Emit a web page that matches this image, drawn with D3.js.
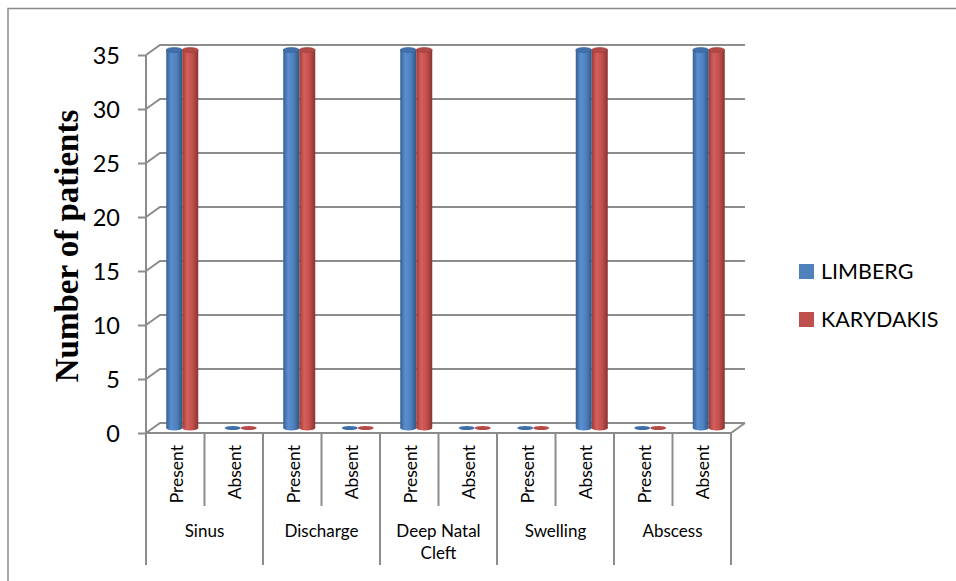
<!DOCTYPE html>
<html>
<head>
<meta charset="utf-8">
<script src="https://cdn.jsdelivr.net/npm/d3@7"></script>
<style>
  html, body { margin: 0; padding: 0; background: #fff; }
  svg { display: block; }
</style>
</head>
<body>
<svg id="chart" width="956" height="581"></svg>
<script>
// Clinical findings per group, split into Present / Absent
const groups = ["Sinus", "Discharge", "Deep Natal Cleft", "Swelling", "Abscess"];
const statuses = ["Present", "Absent"];
const seriesNames = ["LIMBERG", "KARYDAKIS"];
const limberg   = [35, 0, 35, 0, 35, 0, 0, 35, 0, 35];
const karydakis = [35, 0, 35, 0, 35, 0, 0, 35, 0, 35];
const yTicks = [0, 5, 10, 15, 20, 25, 30, 35];
const colors = ["#4F81BD", "#C0504D"];

const svg = d3.select("#chart");
const font = "Lato, 'Open Sans', sans-serif";

// Outer frame (top + left edges)
svg.append("path")
  .attr("d", "M8,581 L8,8.5 L956,8.5")
  .attr("fill", "none").attr("stroke", "#8a8a8a").attr("stroke-width", 1.5);

// Categories: one slot per group/status pair
const cats = [];
groups.forEach(g => statuses.forEach(s => cats.push(g + "|" + s)));

const x0 = 146, x1 = 731;      // front plot edge
const yBase = 433, yTop = 55;  // front y for 0 and 35
const DX = 14, DY = -10;       // depth offset to back wall

const x = d3.scaleBand().domain(cats).range([x0, x1]).paddingInner(0).paddingOuter(0);
const y = d3.scaleLinear().domain([0, 35]).range([yBase, yTop]);

const gridColor = "#8c8c8c";
const grid = svg.append("g");

// Back wall gridlines and side wall diagonals
yTicks.forEach(t => {
  const yf = y(t);
  grid.append("path")
    .attr("d", `M${x0},${yf} L${x0 + DX},${yf + DY} L${x1 + DX},${yf + DY}`)
    .attr("fill", "none").attr("stroke", gridColor).attr("stroke-width", 2);
});

// Floor: front edge + right side
grid.append("path")
  .attr("d", `M${x0},${yBase} L${x1},${yBase} L${x1 + DX},${yBase + DY}`)
  .attr("fill", "none").attr("stroke", gridColor).attr("stroke-width", 2);

// Left axis with tick marks and labels
const yAxis = d3.axisLeft(y).tickValues(yTicks).tickSize(8).tickPadding(18).tickFormat(d3.format("d"));
const ag = svg.append("g").attr("transform", `translate(${x0},0)`).call(yAxis);
ag.select(".domain").remove();
ag.append("line").attr("x1", 0).attr("x2", 0).attr("y1", yTop).attr("y2", 565)
  .attr("stroke", gridColor).attr("stroke-width", 2);
ag.selectAll(".tick line").attr("stroke", gridColor).attr("stroke-width", 2);
ag.selectAll(".tick text")
  .attr("font-family", font).attr("font-size", 23.5).attr("fill", "#000").attr("dy", "0.36em");

// Axis title
svg.append("text")
  .attr("transform", `translate(78,246) rotate(-90)`)
  .attr("text-anchor", "middle")
  .attr("font-family", "'Liberation Serif', 'Times New Roman', serif")
  .attr("font-weight", "bold").attr("font-size", 33)
  .text("Number of patients");

// Category separators under the floor
cats.forEach((c, i) => {
  const isGroupEdge = i % 2 === 0;
  if (i === 0) return;
  grid.append("line")
    .attr("x1", x(c)).attr("x2", x(c))
    .attr("y1", yBase).attr("y2", isGroupEdge ? 565 : 506)
    .attr("stroke", gridColor).attr("stroke-width", 2);
});
grid.append("line").attr("x1", x1).attr("x2", x1).attr("y1", yBase).attr("y2", 565)
  .attr("stroke", gridColor).attr("stroke-width", 2);

// Status labels (rotated)
cats.forEach(c => {
  const cx = x(c) + x.bandwidth() / 2;
  svg.append("text")
    .attr("transform", `translate(${cx + 1},445) rotate(-90)`)
    .attr("text-anchor", "end").attr("dy", "0.36em")
    .attr("font-family", font).attr("font-size", 17.5)
    .text(c.split("|")[1]);
});

// Group labels
groups.forEach(g => {
  const gx = x(g + "|Present") + x.bandwidth();
  const lines = g === "Deep Natal Cleft" ? ["Deep Natal", "Cleft"] : [g];
  lines.forEach((ln, k) => {
    svg.append("text")
      .attr("x", gx).attr("y", 537 + k * 22)
      .attr("text-anchor", "middle")
      .attr("font-family", font).attr("font-size", 17)
      .text(ln);
  });
});

// Cylinder gradients
const defs = svg.append("defs");
const shades = [
  ["#345f93", "#5a8ed0", "#4f81bd", "#2f5685"],
  ["#983b38", "#d65f5b", "#c0504d", "#8a3330"]
];
shades.forEach((s, i) => {
  const lg = defs.append("linearGradient").attr("id", "cyl" + i)
    .attr("x1", "0%").attr("x2", "100%").attr("y1", "0%").attr("y2", "0%");
  lg.append("stop").attr("offset", "0%").attr("stop-color", s[0]);
  lg.append("stop").attr("offset", "30%").attr("stop-color", s[1]);
  lg.append("stop").attr("offset", "65%").attr("stop-color", s[2]);
  lg.append("stop").attr("offset", "100%").attr("stop-color", s[3]);
});

// Bars drawn as cylinders at mid-depth
const MDX = DX / 2, MDY = DY / 2;
const cw = 16, ry = 2.5;
const bars = svg.append("g");
[limberg, karydakis].forEach((vals, si) => {
  vals.forEach((v, i) => {
    const c = cats[i];
    const cx = x(c) + x.bandwidth() / 2 + MDX + (si === 0 ? -cw / 2 : cw / 2);
    const yb = y(0) + MDY;
    const yt = y(v) + MDY;
    const g = bars.append("g");
    if (v > 0) {
      g.append("ellipse").attr("cx", cx).attr("cy", yb).attr("rx", cw / 2).attr("ry", ry)
        .attr("fill", `url(#cyl${si})`);
      g.append("rect").attr("x", cx - cw / 2).attr("y", yt).attr("width", cw).attr("height", yb - yt)
        .attr("fill", `url(#cyl${si})`);
      g.append("ellipse").attr("cx", cx).attr("cy", yt).attr("rx", cw / 2).attr("ry", ry)
        .attr("fill", si === 0 ? "#4170aa" : "#b14946")
        .attr("stroke", si === 0 ? "#36608f" : "#9a3e3b").attr("stroke-width", 0.6);
    } else {
      g.append("ellipse").attr("cx", cx).attr("cy", yb).attr("rx", cw / 2).attr("ry", 2)
        .attr("fill", si === 0 ? "#3f6fa9" : "#b54a47");
    }
  });
});

// Legend
const legend = svg.append("g");
seriesNames.forEach((n, i) => {
  const ly = 264 + i * 48;
  legend.append("rect").attr("x", 799).attr("y", ly).attr("width", 15).attr("height", 15)
    .attr("fill", colors[i]);
  legend.append("text").attr("x", 821).attr("y", ly + 15)
    .attr("font-family", font).attr("font-size", 21.5).text(n);
});
</script>
</body>
</html>
